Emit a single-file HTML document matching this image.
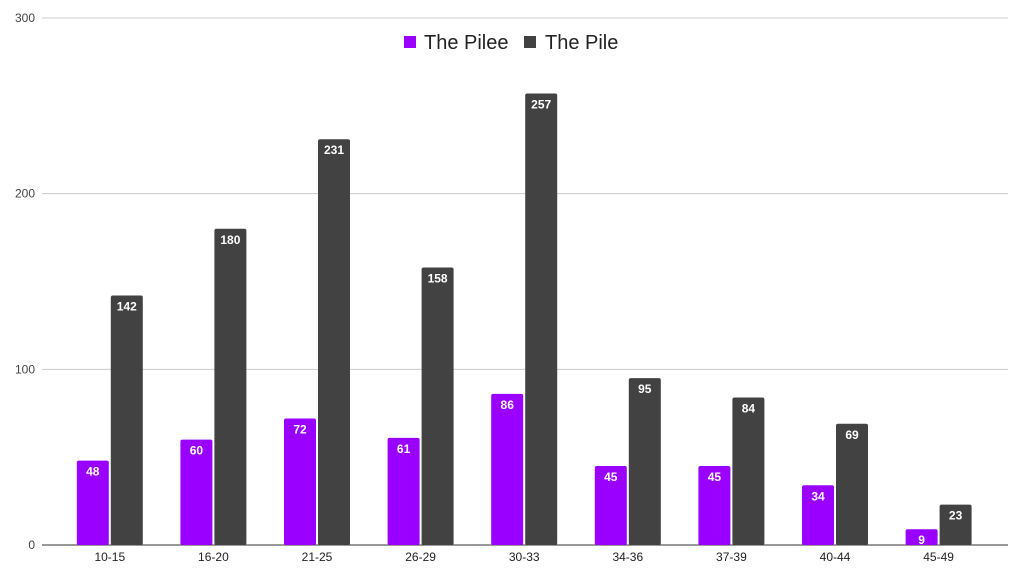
<!DOCTYPE html>
<html><head><meta charset="utf-8"><style>
body{margin:0;background:#fff;font-family:"Liberation Sans",Arial,sans-serif}
svg text{font-family:"Liberation Sans",Arial,sans-serif}
</style></head><body>
<svg id="chart" width="1024" height="576">
<g id="grid"></g><g id="bars"></g><g id="labels"></g>
<g>
<rect x="404" y="36" width="12" height="12" fill="#9900ff"/>
<text x="424" y="49" font-size="20" fill="#222">The Pilee</text>
<rect x="524" y="36" width="12" height="12" fill="#424242"/>
<text x="545" y="49" font-size="20" fill="#222">The Pile</text>
</g>
</svg>
<script>
const categories=["10-15","16-20","21-25","26-29","30-33","34-36","37-39","40-44","45-49"];
const pileeValues=[48,60,72,61,86,45,45,34,9];
const pileValues=[142,180,231,158,257,95,84,69,23];
const yTicks=[0,100,200,300];
const ns="http://www.w3.org/2000/svg";
const y0=545,yTop=18,yMax=300,bandStart=58,bandW=103.6,barW=32,gap=2;
const y=v=>y0-(v/yMax)*(y0-yTop);
const xc=i=>bandStart+bandW*(i+0.5);
function mk(tag,attrs,parent){const e=document.createElementNS(ns,tag);for(const k in attrs)e.setAttribute(k,attrs[k]);parent.appendChild(e);return e;}
const grid=document.getElementById('grid'),bars=document.getElementById('bars'),labels=document.getElementById('labels');
yTicks.forEach(t=>{
 const l=mk('line',{x1:42,x2:1008,y1:y(t),y2:y(t),stroke:t===0?'#333':'#ccc','stroke-width':1},grid);
 
 
 const tx=mk('text',{x:35,y:y(t)+4,'text-anchor':'end','font-size':12,fill:'#444'},grid);
 tx.textContent=t;
 
 
});
categories.forEach((c,i)=>{
 const series=[[pileeValues[i],'#9900ff','pilee',xc(i)-gap/2-barW],[pileValues[i],'#424242','pile',xc(i)+gap/2]];
 series.forEach(([v,col,nm,x])=>{
  const r=mk('rect',{x:x,y:y(v),width:barW,height:y0-y(v),fill:col,rx:2},bars);
  
  
  const t=mk('text',{x:x+barW/2,y:y(v)+15,'text-anchor':'middle','font-size':12,'font-weight':'bold',fill:'#fff'},labels);
  t.textContent=v;
  
  
 });
 const xl=mk('text',{x:xc(i),y:561,'text-anchor':'middle','font-size':12,fill:'#222'},labels);
 xl.textContent=c;
 
 
});
</script>
</body></html>
